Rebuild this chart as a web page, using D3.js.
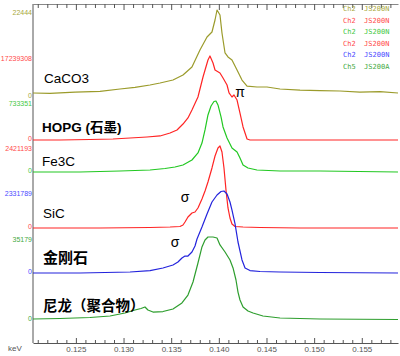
<!DOCTYPE html>
<html><head><meta charset="utf-8">
<script src="https://cdn.jsdelivr.net/npm/d3@7"></script>
<style>html,body{margin:0;padding:0;background:#fff;}svg{display:block;}</style>
</head><body>
<div id="chart"></div>
<script>
// ---------- DATA ----------
const categories = ["CaCO3", "HOPG (石墨)", "Fe3C", "SiC", "金刚石", "尼龙（聚合物）"];
const maxLabels = ["22444", "17239308", "733351", "2421193", "2331789", "35179"];
const legendLabels = ["Ch2  JS200N", "Ch2  JS200N", "Ch2  JS200N", "Ch2  JS200N", "Ch2  JS200N", "Ch5  JS200A"];
const xMajorTicks = [0.125, 0.130, 0.135, 0.140, 0.145, 0.150, 0.155];
const xMinorTicks = [0.121,0.122,0.123,0.124,0.126,0.127,0.128,0.129,0.131,0.132,0.133,0.134,0.136,0.137,0.138,0.139,0.141,0.142,0.143,0.144,0.146,0.147,0.148,0.149,0.151,0.152,0.153,0.154,0.156,0.157,0.158];

// intensities as % of each spectrum's maximum
const caco3Kev = [0.1205,0.12228,0.12491,0.12753,0.12963,0.13120,0.13278,0.13383,0.13519,0.13624,0.13718,0.13802,0.13876,0.13928,0.13960,0.13981,0.14012,0.14033,0.14065,0.14096,0.14138,0.14191,0.14243,0.14296,0.14400,0.14505,0.14642,0.14852,0.15062,0.15271,0.15481,0.15691,0.1588];
const caco3Val = [4.6,4.2,5.7,6.5,9.2,11.0,13.8,16.1,19.5,25.3,34.5,54.0,69.0,74.7,88.5,100,94.3,73.6,50.6,46.0,42.5,31.0,19.5,12.6,11.5,11.5,9.2,8.0,7.4,6.9,5.7,6.2,4.6];

const hopgKev = [0.1205,0.12333,0.12648,0.12889,0.13068,0.13246,0.13383,0.13488,0.13561,0.13624,0.13676,0.13718,0.13781,0.13834,0.13886,0.13907,0.13939,0.13960,0.14012,0.14044,0.14086,0.14107,0.14138,0.14159,0.14191,0.14222,0.14254,0.14296,0.14327,0.14852,0.15271,0.1588];
const hopgVal = [0,0,0.6,1.2,2.4,3.6,4.8,8.3,11.9,19.0,26.2,35.7,51.2,75.0,95.2,100,91.7,83.3,79.8,73.8,65.5,56.0,51.2,53.6,47.6,32.1,15.5,1.2,0,0,0,0];

const fe3cKev = [0.1205,0.12543,0.12963,0.13278,0.13435,0.13540,0.13624,0.13718,0.13781,0.13823,0.13855,0.13886,0.13918,0.13949,0.13970,0.13991,0.14023,0.14044,0.14086,0.14138,0.14191,0.14222,0.14254,0.14306,0.14400,0.14642,0.15062,0.1588];
const fe3cVal = [0,0,1.4,2.8,4.9,7.0,9.9,16.9,26.8,40.8,59.2,80.3,93.0,99.3,100,94.4,77.5,63.4,47.9,33.8,28.2,19.7,9.9,5.6,2.8,1.4,1.4,0];

const sicKev = [0.1205,0.12753,0.13278,0.13488,0.13592,0.13624,0.13645,0.13676,0.13718,0.13750,0.13781,0.13823,0.13855,0.13886,0.13928,0.13960,0.13991,0.14012,0.14033,0.14054,0.14075,0.14096,0.14117,0.14138,0.14170,0.14254,0.14432,0.14852,0.1588];
const sicVal = [0,0,0.6,1.2,1.8,3.7,7.3,13.4,18.3,19.5,24.4,35.4,45.1,56.1,73.2,87.8,97.6,100,92.7,73.2,46.3,24.4,12.2,4.9,1.8,1.2,0.6,0,0];

const diamondKev = [0.1205,0.12543,0.13068,0.13278,0.13414,0.13519,0.13571,0.13613,0.13645,0.13676,0.13718,0.13750,0.13771,0.13823,0.13876,0.13928,0.13981,0.14023,0.14054,0.14086,0.14117,0.14138,0.14170,0.14201,0.14243,0.14275,0.14327,0.14432,0.14642,0.15062,0.1588];
const diamondVal = [0,0,1.2,3.0,6.1,9.8,13.4,18.3,20.7,20.7,25.6,32.9,41.5,56.1,72.0,86.6,95.1,99.4,100,96.3,86.6,76.8,59.8,37.8,15.9,6.1,3.0,1.8,1.2,0.6,0];

const nylonKev = [0.1205,0.12333,0.12648,0.12858,0.13015,0.13120,0.13183,0.13225,0.13256,0.13309,0.13414,0.13519,0.13613,0.13676,0.13729,0.13781,0.13823,0.13855,0.13886,0.13939,0.13981,0.14012,0.14065,0.14117,0.14149,0.14180,0.14201,0.14222,0.14254,0.14306,0.14359,0.14463,0.14642,0.15062,0.1588];
const nylonVal = [1.2,1.8,3.0,4.8,8.4,12.0,13.9,15.7,12.0,9.6,10.2,13.3,20.5,30.1,45.8,68.7,88.0,96.4,100,100,98.8,90.4,81.9,72.3,62.7,48.2,33.7,24.1,15.7,10.8,8.4,4.8,2.4,1.2,0.6];

const seriesKev = [caco3Kev, hopgKev, fe3cKev, sicKev, diamondKev, nylonKev];
const seriesVal = [caco3Val, hopgVal, fe3cVal, sicVal, diamondVal, nylonVal];

// ---------- LAYOUT / STYLE ----------
const W = 400, H = 356;
const plotL = 33, plotR = 398, plotT = 4, plotB = 343;
const bands = [[97,10],[140,56],[172,101],[228,146],[273,191],[320,237]];
const lineColors = ["#9b9b2b", "#ff2424", "#22c822", "#ff2424", "#2323dc", "#2e9e2e"];
const labelColors = ["#a8a83c", "#ff4a4a", "#44c844", "#ff4a4a", "#4a4aff", "#44aa44"];
const titlePos = [[44,83,"normal",13.5],[42,132,"bold",13.5],[42,166,"normal",13.5],[43,218,"normal",13.5],[43,263,"bold",15],[43,311,"bold",14.5]];

const svg = d3.select("#chart").append("svg").attr("width", W).attr("height", H);
svg.append("rect").attr("width", W).attr("height", H).attr("fill", "#fff");

const x = d3.scaleLinear().domain([0.1205, 0.1588]).range([plotL, plotR]);

// axes
const axisColor = "#555";
const gB = svg.append("g").attr("transform", `translate(0,${plotB})`)
  .call(d3.axisBottom(x).tickValues(xMajorTicks).tickFormat(d3.format(".3f")).tickSizeInner(-5).tickSizeOuter(0).tickPadding(3));
gB.select(".domain").attr("stroke", axisColor);
gB.selectAll(".tick line").attr("stroke", axisColor);
gB.selectAll("text").attr("fill", "#555").attr("font-size", "8px").attr("font-family", "Liberation Sans, Arial, sans-serif");
const gBm = svg.append("g").attr("transform", `translate(0,${plotB})`)
  .call(d3.axisBottom(x).tickValues(xMinorTicks).tickFormat("").tickSizeInner(-3).tickSizeOuter(0));
gBm.select(".domain").remove();
gBm.selectAll(".tick line").attr("stroke", axisColor);

const gT = svg.append("g").attr("transform", `translate(0,${plotT})`)
  .call(d3.axisTop(x).tickValues(xMajorTicks).tickFormat("").tickSizeInner(-6).tickSizeOuter(0));
gT.select(".domain").attr("stroke", "#888");
gT.selectAll(".tick line").attr("stroke", axisColor);
const gTm = svg.append("g").attr("transform", `translate(0,${plotT})`)
  .call(d3.axisTop(x).tickValues(xMinorTicks).tickFormat("").tickSizeInner(-4).tickSizeOuter(0));
gTm.select(".domain").remove();
gTm.selectAll(".tick line").attr("stroke", axisColor);

svg.append("line").attr("x1", plotL).attr("x2", plotL).attr("y1", plotT).attr("y2", plotB).attr("stroke", axisColor);

svg.append("text").attr("x", 8).attr("y", 351).attr("font-size", "8px").attr("fill", "#555")
  .attr("font-family", "Liberation Sans, Arial, sans-serif").text("keV");

// series
seriesVal.forEach((vals, i) => {
  const y = d3.scaleLinear().domain([0, 100]).range(bands[i]);
  const pts = vals.map((v, j) => [seriesKev[i][j], v]);
  svg.append("path").datum(pts)
    .attr("fill", "none").attr("stroke", lineColors[i]).attr("stroke-width", 1.2)
    .attr("stroke-linejoin", "round")
    .attr("d", d3.line().x(d => x(d[0])).y(d => y(d[1])));
  // left labels
  svg.append("text").attr("x", 32).attr("y", y(100) + 3).attr("dy", "0.35em").attr("text-anchor", "end")
    .attr("font-size", "7px").attr("font-family", "Liberation Sans, Arial, sans-serif")
    .attr("fill", labelColors[i]).text(maxLabels[i]);
  svg.append("text").attr("x", 32).attr("y", y(0) - 1.5).attr("dy", "0.35em").attr("text-anchor", "end")
    .attr("font-size", "7px").attr("font-family", "Liberation Sans, Arial, sans-serif")
    .attr("fill", labelColors[i]).text("0");
  // sample name
  const tp = titlePos[i];
  svg.append("text").attr("x", tp[0]).attr("y", tp[1]).attr("font-size", tp[3] + "px").attr("font-weight", tp[2])
    .attr("font-family", "Liberation Sans, Noto Sans CJK SC, sans-serif").attr("fill", "#000").text(categories[i]);
  // legend
  svg.append("text").attr("x", 343).attr("y", 9 + i * 11.5).attr("dy", "0.35em")
    .attr("font-size", "7px").attr("font-family", "DejaVu Sans Mono, monospace")
    .attr("fill", labelColors[i]).attr("xml:space", "preserve").style("white-space", "pre").text(legendLabels[i]);
});

// annotations
const notes = [["π", 0.14222, 97], ["σ", 0.13645, 202], ["σ", 0.13540, 247]];
notes.forEach(n => {
  svg.append("text").attr("x", x(n[1])).attr("y", n[2]).attr("text-anchor", "middle")
    .attr("font-size", "14px").attr("font-family", "Liberation Sans, Arial, sans-serif").attr("fill", "#000").text(n[0]);
});
</script>
</body></html>
